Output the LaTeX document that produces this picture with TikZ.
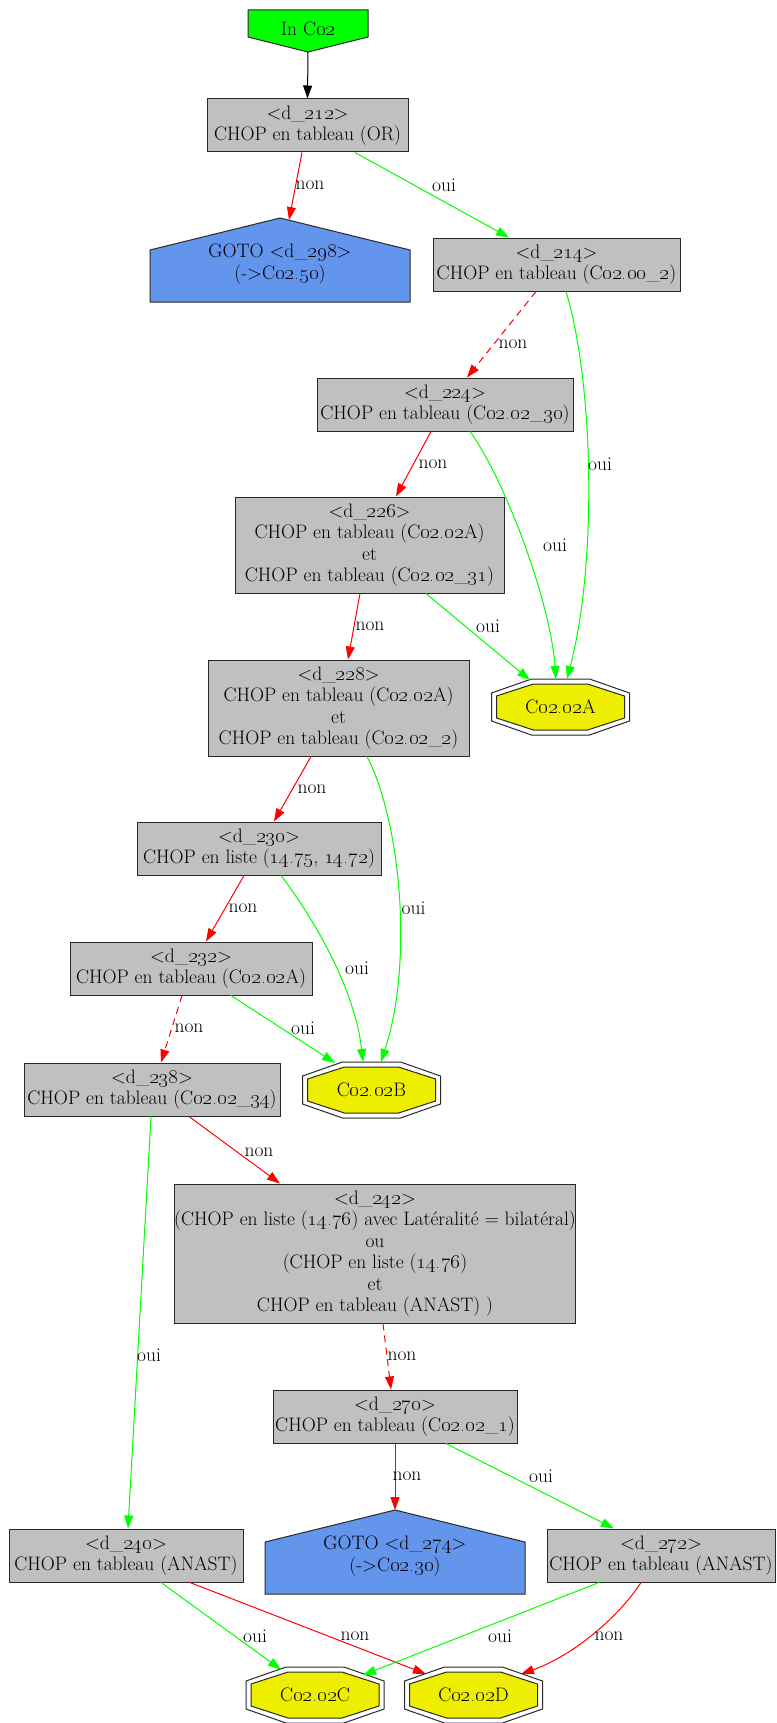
\documentclass[tikz,border=0pt]{standalone}
\usetikzlibrary{arrows.meta,calc,backgrounds}
\definecolor{boxgray}{RGB}{192,192,192}
\definecolor{gotoblue}{RGB}{100,149,237}
\definecolor{startgreen}{RGB}{0,255,0}
\definecolor{endyellow}{RGB}{238,238,0}
\definecolor{ered}{RGB}{255,0,0}
\definecolor{egreen}{RGB}{0,255,0}
\definecolor{bord}{RGB}{40,40,40}
\newcommand\od[1]{\oldstylenums{#1}}
\tikzset{
  every node/.style={font=\fontsize{19.5}{21.5}\selectfont},
  box/.style={draw=bord, fill=boxgray, line width=1pt, inner sep=0pt, align=center, minimum height=53pt},
  tallbox/.style={box, minimum height=96pt},
  holder/.style={inner sep=0pt, align=center},
  conn/.style={line width=1pt, -{Triangle[length=13pt,width=9pt]}},
  yes/.style={conn, draw=egreen},
  no/.style={conn, draw=ered},
  nodash/.style={no, dash pattern=on 7pt off 5pt},
  lbl/.style={inner sep=0pt, text=black},
  outline/.style={draw=bord, line width=1pt},
}
\begin{document}
\begin{tikzpicture}[x=1pt,y=-1pt]
\useasboundingbox (0,0) rectangle (776,1723);

% nodes
\node[holder] (incoh) at (308,29) {In C\od{02}};
\node[box, minimum width=201pt] (d212) at (307.5,125.5) {<d\_\od{212}>\\CHOP en tableau (OR)};
\node[holder] (g298) at (280,264) {GOTO <d\_\od{298}>\\(->C\od{02.50})};
\node[box, minimum width=247pt] (d214) at (556.5,264.5) {<d\_\od{214}>\\CHOP en tableau (C\od{02.00}\_\od{2})};
\node[box, minimum width=256pt] (d224) at (445,404.5) {<d\_\od{224}>\\CHOP en tableau (C\od{02.02}\_\od{30})};
\node[tallbox, minimum width=269pt] (d226) at (369.5,545) {<d\_\od{226}>\\CHOP en tableau (C\od{02.02}A)\\et\\CHOP en tableau (C\od{02.02}\_\od{31})};
\node[tallbox, minimum width=261pt] (d228) at (338.5,708) {<d\_\od{228}>\\CHOP en tableau (C\od{02.02}A)\\et\\CHOP en tableau (C\od{02.02}\_\od{2})};
\node[holder] (c2a) at (560.5,707) {C\od{02.02}A};
\node[box, minimum width=244pt] (d230) at (259,848.5) {<d\_\od{230}>\\CHOP en liste (\od{14.75}, \od{14.72})};
\node[box, minimum width=242pt] (d232) at (191,968.5) {<d\_\od{232}>\\CHOP en tableau (C\od{02.02}A)};
\node[box, minimum width=256pt] (d238) at (152,1089.5) {<d\_\od{238}>\\CHOP en tableau (C\od{02.02}\_\od{34})};
\node[holder] (c2b) at (371.5,1090) {C\od{02.02}B};
\node[box, minimum width=400pt, minimum height=139pt] (d242) at (375,1253.5) {<d\_\od{242}>\\(CHOP en liste (\od{14.76}) avec Latéralité = bilatéral)\\ou\\(CHOP en liste (\od{14.76})\\et\\CHOP en tableau (ANAST) )};
\node[box, minimum width=244pt] (d270) at (395,1416.5) {<d\_\od{270}>\\CHOP en tableau (C\od{02.02}\_\od{1})};
\node[box, minimum width=234pt] (d240) at (126,1555.5) {<d\_\od{240}>\\CHOP en tableau (ANAST)};
\node[holder] (g274) at (395,1556) {GOTO <d\_\od{274}>\\(->C\od{02.30})};
\node[box, minimum width=228pt] (d272) at (661,1555.5) {<d\_\od{272}>\\CHOP en tableau (ANAST)};
\node[holder] (c2c) at (315,1695) {C\od{02.02}C};
\node[holder] (c2d) at (473.5,1695) {C\od{02.02}D};

% shapes behind the texts
\begin{scope}[on background layer]
  \draw[outline, fill=startgreen, shift={(incoh.center)}] (-60,-19) -- (60,-19) -- (60,8) -- (0,23) -- (-60,8) -- cycle;
  \foreach \g in {g298,g274}{
    \draw[outline, fill=gotoblue, shift={(\g.center)}] (0,-46) -- (130,-14) -- (130,38) -- (-130,38) -- (-130,-14) -- cycle;
  }
  \foreach \o in {c2a,c2b,c2c,c2d}{
    \draw[outline, fill=white, shift={(\o.center)}] (-29,-28) -- (29,-28) -- (69,-14) -- (69,14) -- (29,28) -- (-29,28) -- (-69,14) -- (-69,-14) -- cycle;
    \draw[outline, fill=endyellow, shift={(\o.center)}] (-27,-23) -- (27,-23) -- (64,-11) -- (64,11) -- (27,23) -- (-27,23) -- (-64,11) -- (-64,-11) -- cycle;
  }
\end{scope}

% connectors
\draw[conn, black] ($(incoh.center)+(0,23)$) -- (d212.north);
\draw[no] ([xshift=-5.5pt]d212.south) -- ($(g298.center)+(9,-44)$) node[lbl] at (310,185) {non};
\draw[yes] ([xshift=47.5pt]d212.south) -- ([xshift=-47.5pt]d214.north) node[lbl] at (444,185) {oui};
\draw[nodash] ([xshift=-20.5pt]d214.south) -- ([xshift=22pt]d224.north) node[lbl] at (513,344) {non};
\draw[yes] ([xshift=9.5pt]d214.south) .. controls (593,380) and (598,560) .. ($(c2a.center)+(6.5,-28)$) node[lbl] at (600,464) {oui};
\draw[no] ([xshift=-14pt]d224.south) -- ([xshift=26.5pt]d226.north) node[lbl] at (433,464) {non};
\draw[yes] ([xshift=25pt]d224.south) .. controls (505,480) and (550,600) .. ($(c2a.center)+(-4.5,-28)$) node[lbl] at (555,545) {oui};
\draw[no] ([xshift=-9.5pt]d226.south) -- ([xshift=9.5pt]d228.north) node[lbl] at (370,626) {non};
\draw[yes] ([xshift=56.5pt]d226.south) -- ($(c2a.center)+(-30.5,-27)$) node[lbl] at (488,626) {oui};
\draw[no] ([xshift=-27.5pt]d228.south) -- ([xshift=15pt]d230.north) node[lbl] at (312,789) {non};
\draw[yes] ([xshift=28.5pt]d228.south) .. controls (400,820) and (414,960) .. ($(c2b.center)+(9.5,-28)$) node[lbl] at (413.5,908) {oui};
\draw[no] ([xshift=-15pt]d230.south) -- ([xshift=15pt]d232.north) node[lbl] at (243,908) {non};
\draw[yes] ([xshift=22pt]d230.south) .. controls (315,920) and (355,990) .. ($(c2b.center)+(-8.5,-28)$) node[lbl] at (357,968) {oui};
\draw[nodash] ([xshift=-9pt]d232.south) -- ([xshift=9pt]d238.north) node[lbl] at (189,1028) {non};
\draw[yes] ([xshift=40pt]d232.south) -- ($(c2b.center)+(-36.5,-27)$) node[lbl] at (303,1028) {oui};
\draw[yes] ([xshift=-1pt]d238.south) -- ([xshift=2pt]d240.north) node[lbl] at (149,1355) {oui};
\draw[no] ([xshift=37pt]d238.south) -- ([xshift=-95pt]d242.north) node[lbl] at (259,1152) {non};
\draw[nodash] ([xshift=8pt]d242.south) -- ([xshift=-4pt]d270.north) node[lbl] at (402,1356) {non};
\draw[no] (d270.south) -- ($(g274.center)+(0,-46)$) node[lbl] at (407,1476) {non};
\draw[yes] ([xshift=51pt]d270.south) -- ([xshift=-47pt]d272.north) node[lbl] at (541,1476) {oui};
\draw[yes] ([xshift=35pt]d240.south) -- ($(c2c.center)+(-34,-25.5)$) node[lbl] at (255,1636) {oui};
\draw[no] ([xshift=64pt]d240.south) -- ($(c2d.center)+(-47.5,-21)$) node[lbl] at (355,1636) {non};
\draw[yes] ([xshift=-62pt]d272.south) -- ($(c2c.center)+(48,-20)$) node[lbl] at (500,1636) {oui};
\draw[no] ([xshift=-20pt]d272.south) .. controls (620,1615) and (575,1655) .. ($(c2d.center)+(47.5,-21)$) node[lbl] at (609,1636) {non};
\end{tikzpicture}
\end{document}
